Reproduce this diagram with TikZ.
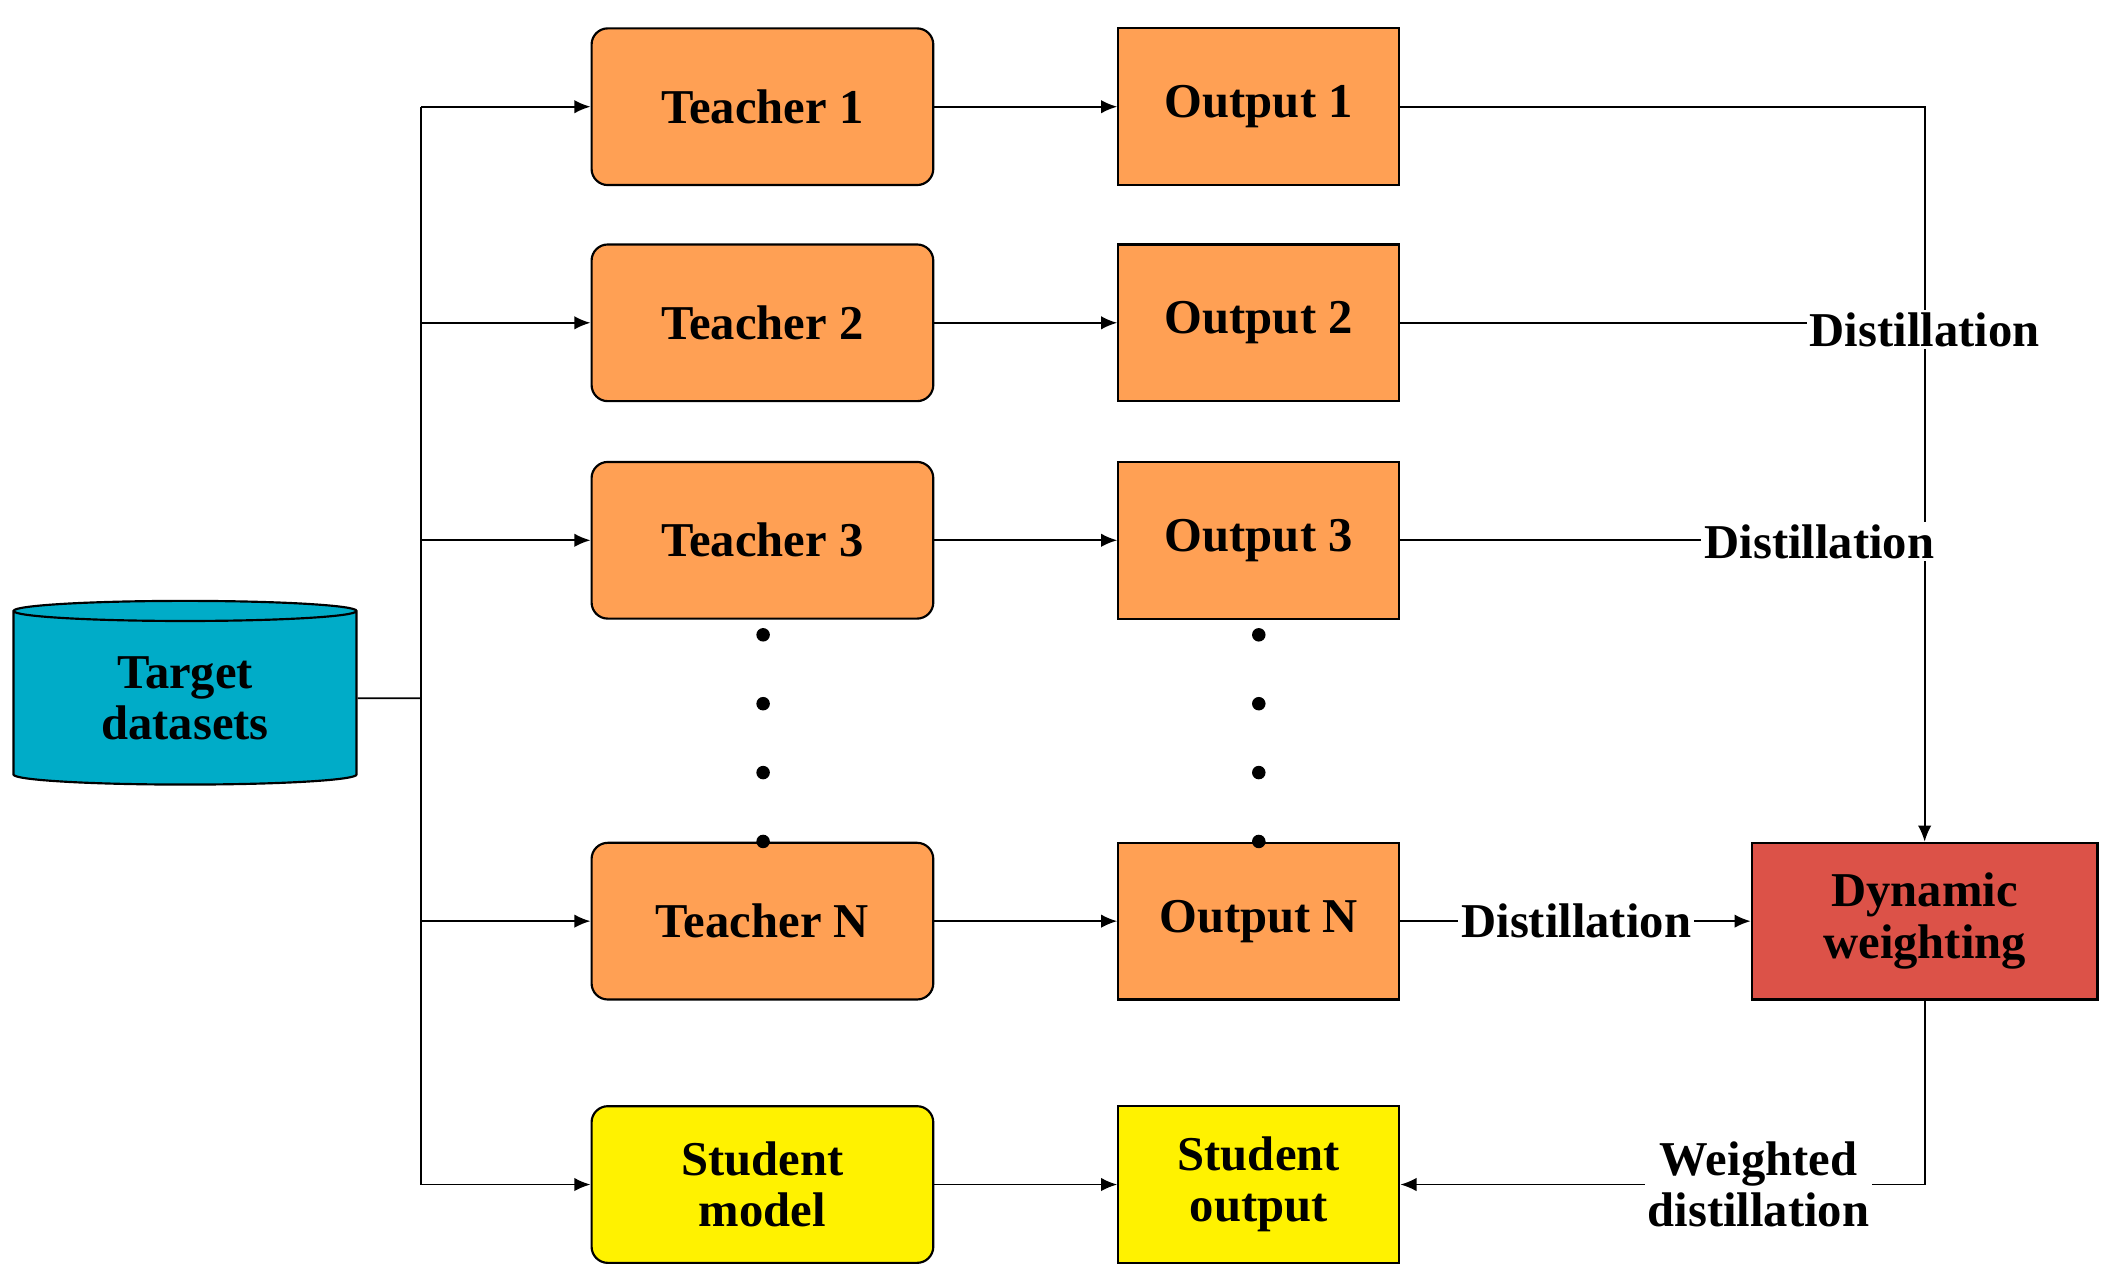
\documentclass[tikz,border=0pt]{standalone}
\usepackage{fontspec}
\setmainfont{Liberation Serif}
\usetikzlibrary{shapes.geometric,arrows.meta}
\definecolor{org}{RGB}{255,160,84}
\definecolor{cyn}{RGB}{0,172,200}
\definecolor{rd}{RGB}{220,82,72}
\begin{document}
\begin{tikzpicture}[x=0.5pt,y=-0.5pt,
  txt/.style={font=\bfseries\fontsize{18}{19}\selectfont,align=center},
  box/.style={txt,draw,line width=0.8pt,minimum width=126.5pt,minimum height=58pt,inner sep=0pt},
  tea/.style={box,rounded corners=6pt,fill=org},
  outb/.style={box,minimum width=104pt,fill=org},
  lab/.style={txt,fill=white,inner sep=1pt},
  arr/.style={-{Latex[length=6pt,width=5pt]},line width=0.7pt},
  ln/.style={line width=0.7pt},
  dot/.style={circle,fill,inner sep=0pt,minimum size=5pt}]
\useasboundingbox (0,0) rectangle (1560,950);
\node[txt,draw,line width=0.8pt,fill=cyn,cylinder,shape border rotate=90,aspect=0.12,minimum width=127pt,minimum height=68pt,inner sep=0pt] (ds) at (137,517) {Target\\datasets};
\coordinate (j) at (312,517);
\foreach \n/\y/\t/\o in {t1/79/Teacher 1/Output 1,t2/239/Teacher 2/Output 2,t3/400/Teacher 3/Output 3,tn/682/Teacher N/Output N}{
  \node[tea] (\n) at (564.5,\y) {\t};
  \node[outb] (o\n) at (932,\y) {\o};
  \draw[arr] (\n) -- (o\n);
  \draw[arr] (j |- \n) -- (\n);
}
\node[tea,fill=yellow] (sm) at (564.5,877) {Student\\model};
\node[outb,fill=yellow] (so) at (932,877) {Student\\output};
\node[box,minimum width=128pt,fill=rd] (dw) at (1425,682) {Dynamic\\weighting};
\draw[ln] (ds.east) -- (j);
\draw[ln] (j |- t1) -- (j |- sm);
\draw[arr] (j |- sm) -- (sm);
\draw[arr] (sm) -- (so);
\foreach \y in {470,521,572,623}{\node[dot] at (565,\y) {}; \node[dot] at (932,\y) {};}
\coordinate (c1) at (1425,79);
\draw[arr] (ot1.east) -- (c1) -- (dw.north);
\node[lab] (l2) at (1425,244) {Distillation};
\node[lab] (l3) at (1347,401) {Distillation};
\draw[ln] (ot2.east) -- (l2.west |- ot2);
\draw[ln] (ot3.east) -- (l3.west |- ot3);
\node[lab] (l2b) at (1425,244) {Distillation};
\node[lab] (ln) at (1167,682) {Distillation};
\draw[ln] (otn.east) -- (ln.west);
\draw[arr] (ln.east) -- (dw.west);
\coordinate (c2) at (1425,877);
\draw[arr] (dw.south) -- (c2) -- (so.east);
\node[lab] (wd) at (1302,877) {Weighted\\distillation};
\end{tikzpicture}
\end{document}
